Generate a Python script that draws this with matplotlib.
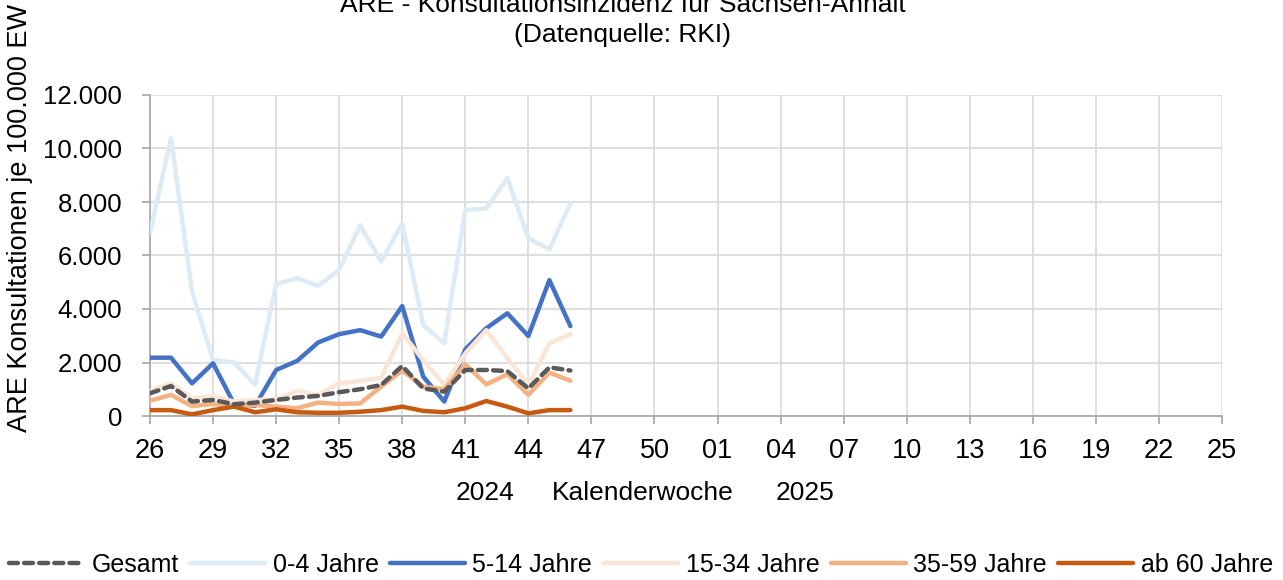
import numpy as np
import matplotlib.pyplot as plt
from matplotlib.ticker import FuncFormatter

plt.rcParams['font.family'] = ['Liberation Sans', 'DejaVu Sans']

# Kalenderwochen 26/2024 .. 25/2025
weeks = list(range(26, 53)) + list(range(1, 26))
tick_idx = list(range(0, len(weeks), 3))
tick_labels = ['%02d' % weeks[i] for i in tick_idx]

# Werte ab KW 26/2024
gesamt = [850, 1120, 540, 600, 440, 500, 600, 690, 750, 890, 1000, 1160, 1870,
          1030, 910, 1720, 1720, 1680, 1030, 1820, 1700]
j0_4 = [6850, 10380, 4650, 2090, 2000, 1160, 4930, 5150, 4870, 5460, 7130, 5770,
        7200, 3400, 2720, 7700, 7760, 8900, 6640, 6230, 7950]
j5_14 = [2180, 2180, 1220, 1970, 450, 380, 1720, 2060, 2750, 3060, 3210, 2970,
         4110, 1470, 540, 2490, 3280, 3840, 2990, 5080, 3360]
j15_34 = [950, 1220, 660, 750, 540, 600, 620, 930, 790, 1220, 1310, 1430, 3090,
          2090, 1160, 2340, 3210, 2160, 1160, 2720, 3060]
j35_59 = [570, 790, 370, 450, 350, 410, 350, 290, 500, 450, 470, 1100, 1700,
          1100, 1000, 1930, 1180, 1560, 790, 1620, 1320]
ab60 = [220, 220, 60, 220, 350, 140, 250, 140, 120, 120, 160, 220, 350, 190,
        140, 290, 560, 350, 100, 220, 220]

series = [
    ('Gesamt', gesamt, '#595959', (0, (2.0, 1.4))),
    ('0-4 Jahre', j0_4, '#DDEBF7', '-'),
    ('5-14 Jahre', j5_14, '#4472C4', '-'),
    ('15-34 Jahre', j15_34, '#FBE5D6', '-'),
    ('35-59 Jahre', j35_59, '#F4B183', '-'),
    ('ab 60 Jahre', ab60, '#C55A11', '-'),
]

fig = plt.figure(figsize=(12.83, 5.8), dpi=100)
W, H = 1283, 580
ax = fig.add_axes([150 / W, 1 - 416 / H, (1222 - 150) / W, (416 - 95) / H])

x = np.arange(len(gesamt))
handles = []
for name, vals, col, ls in series:
    z = 5 if name == 'Gesamt' else 3
    h, = ax.plot(x, vals, color=col, linestyle=ls, linewidth=3.2, label=name,
                 zorder=z, solid_capstyle='round', dash_capstyle='round')
    handles.append(h)

ax.set_xlim(0, len(weeks) - 1)
ax.set_ylim(0, 12000)
ax.set_xticks(tick_idx)
ax.set_xticklabels(tick_labels)
ax.set_yticks(range(0, 12001, 2000))
ax.yaxis.set_major_formatter(FuncFormatter(lambda v, p: '{:,.0f}'.format(v).replace(',', '.')))

ax.grid(True, color='#d9d9d9', linewidth=1.2, zorder=0)
ax.set_axisbelow(True)
for s in ['top', 'right']:
    ax.spines[s].set_visible(False)
for s in ['left', 'bottom']:
    ax.spines[s].set_color('#a6a6a6')
    ax.spines[s].set_linewidth(1.2)
ax.tick_params(axis='both', colors='#a6a6a6', labelcolor='black',
               length=6, width=1.2)
ax.tick_params(axis='y', pad=14, labelsize=18.5)
ax.tick_params(axis='x', pad=10, labelsize=19.5)

fig.text(623 / W, 1 - 5 / H, 'ARE - Konsultationsinzidenz für Sachsen-Anhalt',
         ha='center', va='center', fontsize=19)
fig.text(623 / W, 1 - 35 / H, '(Datenquelle: RKI)', ha='center', va='center',
         fontsize=19)

fig.text(20 / W, 1 - 218 / H, 'ARE Konsultationen je 100.000 EW', rotation=90,
         ha='center', va='center', fontsize=19.5)

fig.text(485 / W, 1 - 493 / H, '2024', ha='center', va='center', fontsize=19)
fig.text(643 / W, 1 - 493 / H, 'Kalenderwoche', ha='center', va='center', fontsize=19)
fig.text(805 / W, 1 - 493 / H, '2025', ha='center', va='center', fontsize=19)

fig.legend(handles=handles, loc='center', bbox_to_anchor=(641 / W, 1 - 565 / H),
           ncol=6, frameon=False, fontsize=18, handlelength=3.0,
           handletextpad=0.3, columnspacing=0.45, borderpad=0)

fig.savefig('out.png', dpi=100)
